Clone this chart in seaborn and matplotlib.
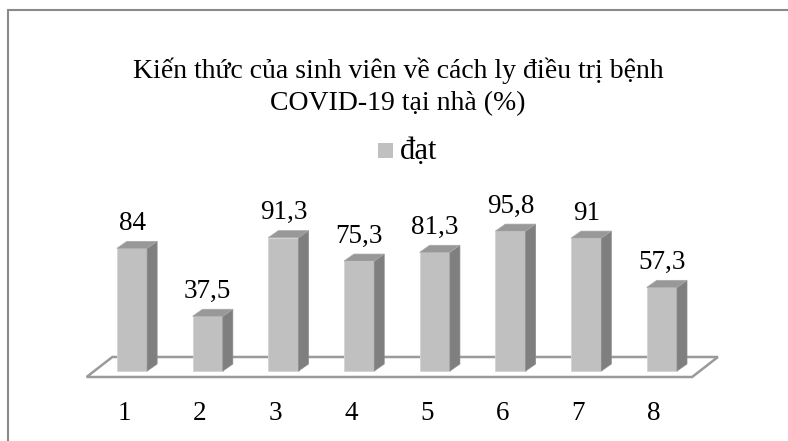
import numpy as np
import matplotlib
matplotlib.use("Agg")
import matplotlib.pyplot as plt
import matplotlib.patches as mpatches
from matplotlib.transforms import ScaledTranslation
import seaborn as sns

# data
categories = ["1", "2", "3", "4", "5", "6", "7", "8"]
values = [84, 37.5, 91.3, 75.3, 81.3, 95.8, 91, 57.3]
value_labels = ["84", "37,5", "91,3", "75,3", "81,3", "95,8", "91", "57,3"]
series_name = "đạt"
title = "Kiến thức của sinh viên về cách ly điều trị bệnh\nCOVID-19 tại nhà (%)"

sns.set_theme(style="white")
plt.rcParams["font.family"] = ["Liberation Serif", "DejaVu Serif"]

W, H = 788, 441
fig = plt.figure(figsize=(W / 100, H / 100), dpi=100)

# axes placed so that value 0 sits on the floor of the 3d box
ax = fig.add_axes([90 / W, (H - 377) / H, 640 / W, 197 / H])

front = "#c0c0c0"
side = "#7f7f7f"
top = "#989898"

sns.barplot(x=categories, y=values, color=front, width=0.4, saturation=1,
            ax=ax, zorder=3, edgecolor="#d4d4d4", linewidth=0.6)

ax.set_xlim(-0.555, 7.9)
ax.set_ylim(-4.1, 130.8)

# depth offsets of the bars (data units)
dx, dy = 0.132, 4.8

# floor of the chart
n = len(categories)
fl, fr = -0.6, n - 0.6
fdx, fdy = 0.34, 13.7
floor = mpatches.Polygon([(fl, -4.1), (fr, -4.1), (fr + fdx, -4.1 + fdy), (fl + fdx, -4.1 + fdy)],
                         closed=True, facecolor="white", edgecolor="#9a9a9a", lw=1.8,
                         zorder=1, clip_on=False)
ax.add_patch(floor)

for p, lab in zip(ax.patches[:n], value_labels):
    x0 = p.get_x()
    x1 = x0 + p.get_width()
    h = p.get_height()
    ax.add_patch(mpatches.Polygon([(x1, 0), (x1 + dx, dy), (x1 + dx, h + dy), (x1, h)],
                                  closed=True, facecolor=side, edgecolor="#8c8c8c", lw=0.5, zorder=3))
    ax.add_patch(mpatches.Polygon([(x0, h), (x1, h), (x1 + dx, h + dy), (x0 + dx, h + dy)],
                                  closed=True, facecolor=top, edgecolor="#a8a8a8", lw=0.5, zorder=3))
    ax.annotate(lab, (x0 + p.get_width() / 2, h), xytext=(0, 18), textcoords="offset points",
                ha="center", va="center", fontsize=19.5, color="black")

ax.set_xlabel("")
ax.set_ylabel("")
ax.set_yticks([])
ax.tick_params(axis="x", length=0, pad=17, labelsize=19.5, labelcolor="black")
for t in ax.get_xticklabels():
    t.set_transform(t.get_transform() + ScaledTranslation(-0.08, 0, fig.dpi_scale_trans))
for s in ax.spines.values():
    s.set_visible(False)

fig.text(398 / W, 1 - 87 / H, title, ha="center", va="center", fontsize=20,
         color="black", linespacing=1.38)

# legend
fig.patches.append(mpatches.Rectangle((378 / W, 1 - 158 / H), 15 / W, 15 / H,
                                      transform=fig.transFigure, facecolor=front, edgecolor="none"))
fig.text(400 / W, 1 - 152 / H, series_name, ha="left", va="center", fontsize=22, color="black")

# chart border
fig.patches.append(mpatches.Rectangle((7.5 / W, -0.05), 1.2, 1 - 10 / H + 0.05,
                                      transform=fig.transFigure, facecolor="none",
                                      edgecolor="#8a8a8a", lw=1.5))

fig.savefig("out.png", dpi=100)
